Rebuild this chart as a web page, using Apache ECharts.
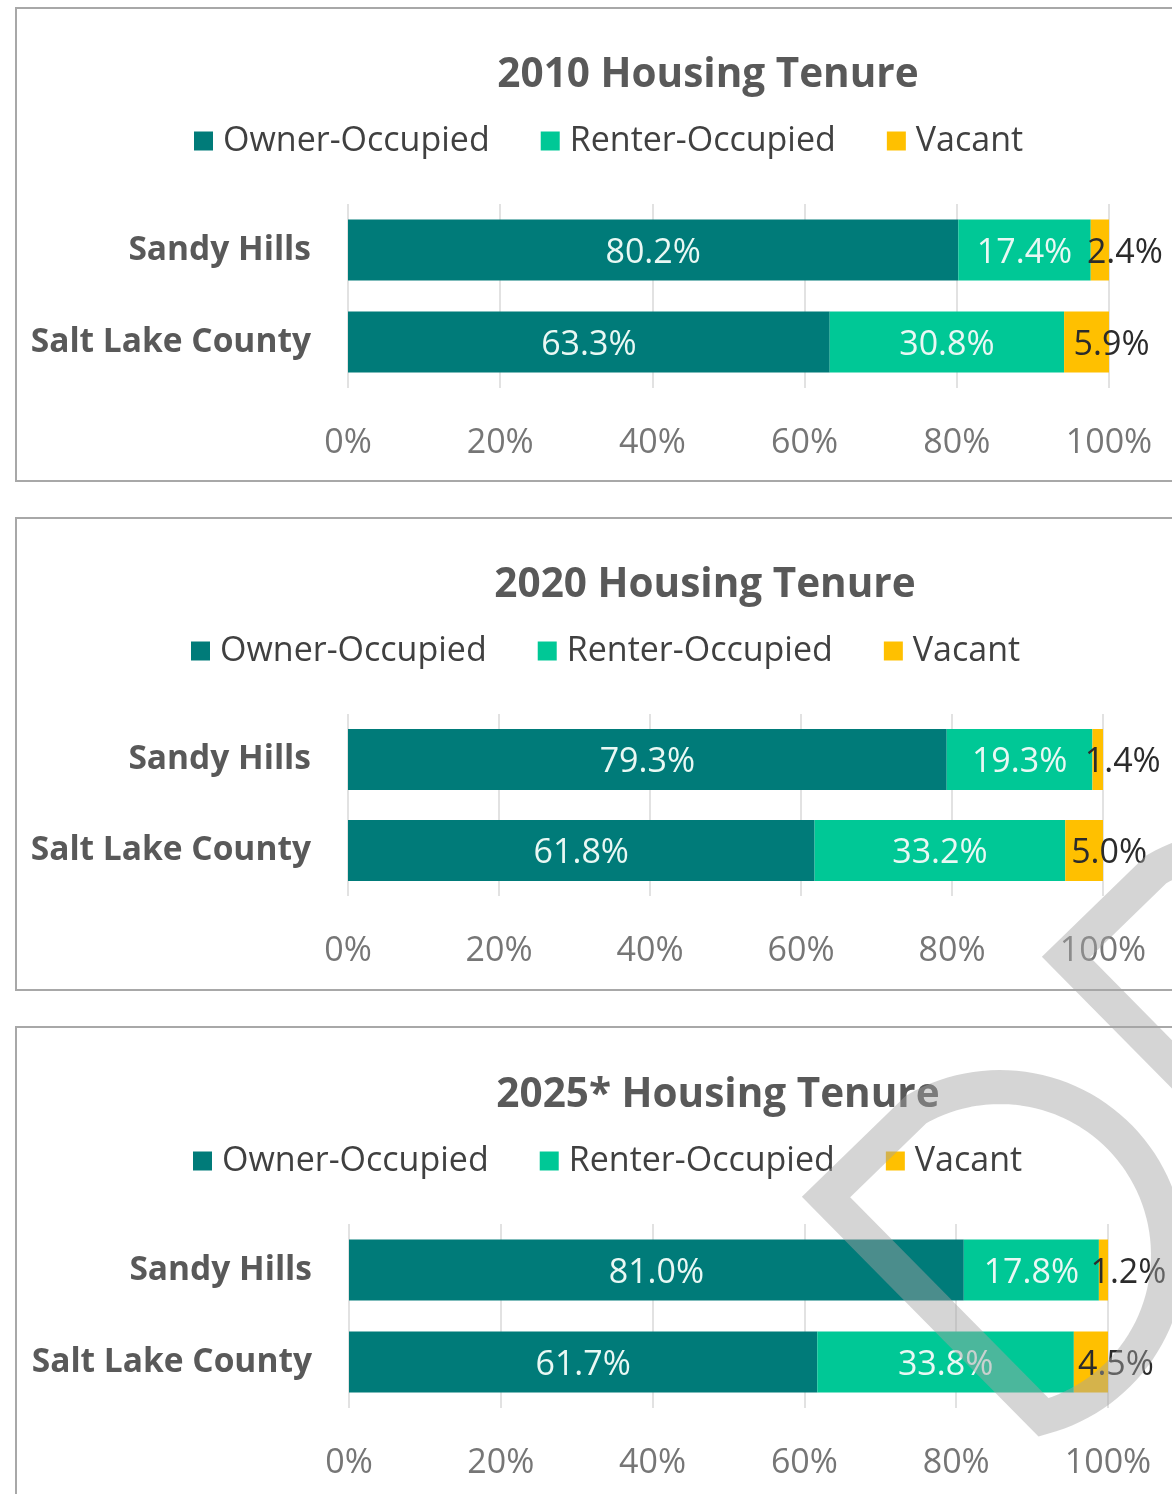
<!DOCTYPE html>
<html>
<head>
<meta charset="utf-8">
<title>Housing Tenure</title>
<script src="https://cdn.jsdelivr.net/npm/echarts@6/dist/echarts.min.js"></script>
<style>
  html, body { margin: 0; padding: 0; background: #ffffff; }
  #chart { width: 1172px; height: 1494px; }
</style>
</head>
<body>
<div id="chart"></div>
<script>
// Housing tenure shares (percent of housing units)
const categories = ['Sandy Hills', 'Salt Lake County'];
const seriesNames = ['Owner-Occupied', 'Renter-Occupied', 'Vacant'];
const chartTitles = ['2010 Housing Tenure', '2020 Housing Tenure', '2025* Housing Tenure'];
const tickLabels = ['0%', '20%', '40%', '60%', '80%', '100%'];

const owner2010 = [80.2, 63.3];
const renter2010 = [17.4, 30.8];
const vacant2010 = [2.4, 5.9];

const owner2020 = [79.3, 61.8];
const renter2020 = [19.3, 33.2];
const vacant2020 = [1.4, 5.0];

const owner2025 = [81.0, 61.7];
const renter2025 = [17.8, 33.8];
const vacant2025 = [1.2, 4.5];

const panelValues = [
  [owner2010, renter2010, vacant2010],
  [owner2020, renter2020, vacant2020],
  [owner2025, renter2025, vacant2025]
];

const colors = ['#007b79', '#00c896', '#ffc000'];

// Frame and plot placement for the three stacked panels
const layout = [
  { boxTop: 8,    boxBottom: 481,  titleX: 708, titleTop: 55,   legendLeft: 194, legendTop: 124,  gridTop: 204,  gridH: 184, gridLeft: 348, gridW: 761 },
  { boxTop: 518,  boxBottom: 990,  titleX: 705, titleTop: 565,  legendLeft: 191, legendTop: 634,  gridTop: 714,  gridH: 182, gridLeft: 348, gridW: 755 },
  { boxTop: 1027, boxBottom: 1560, titleX: 718, titleTop: 1075, legendLeft: 193, legendTop: 1144, gridTop: 1224, gridH: 184, gridLeft: 349, gridW: 759 }
];

const FONT = '"Open Sans", "Noto Sans", sans-serif';
const pct = v => v.toFixed(1) + '%';

const titles = [], legends = [], grids = [], xAxes = [], yAxes = [], series = [], frames = [];

layout.forEach((p, i) => {
  titles.push({
    text: chartTitles[i],
    left: p.titleX,
    top: p.titleTop,
    textAlign: 'center',
    padding: 0,
    textStyle: { fontFamily: FONT, fontSize: 40.5, fontWeight: 'bold', color: '#595959' }
  });
  legends.push({
    data: seriesNames,
    left: p.legendLeft,
    top: p.legendTop,
    padding: 0,
    itemGap: 51,
    itemWidth: 19,
    itemHeight: 19,
    icon: 'rect',
    selectedMode: false,
    textStyle: { fontFamily: FONT, fontSize: 34, color: '#404040', padding: [0, 0, 0, 5] }
  });
  grids.push({ left: p.gridLeft, top: p.gridTop, width: p.gridW, height: p.gridH });
  xAxes.push({
    type: 'value',
    gridIndex: i,
    min: 0,
    max: 100,
    interval: 20,
    axisLine: { show: false },
    axisTick: { show: false },
    splitLine: { show: true, lineStyle: { color: '#d9d9d9', width: 1.5 } },
    axisLabel: {
      margin: 38,
      fontFamily: FONT,
      fontSize: 34,
      color: '#767676',
      formatter: v => tickLabels[Math.round(v / 20)]
    }
  });
  yAxes.push({
    type: 'category',
    gridIndex: i,
    data: categories,
    inverse: true,
    axisLine: { show: false },
    axisTick: { show: false },
    axisLabel: {
      margin: 37,
      fontFamily: FONT,
      fontSize: 33.5,
      fontWeight: 'bold',
      color: '#595959',
      padding: [6, 0, 0, 0]
    }
  });
  panelValues[i].forEach((vals, s) => {
    const isVacant = s === 2;
    series.push({
      name: seriesNames[s],
      type: 'bar',
      stack: 'tenure' + i,
      xAxisIndex: i,
      yAxisIndex: i,
      data: vals,
      barWidth: 61,
      itemStyle: { color: colors[s] },
      label: {
        show: true,
        position: 'inside',
        offset: isVacant ? [25, 3] : [0, 3],
        fontFamily: FONT,
        fontSize: 34,
        color: isVacant ? '#2b2b2b' : '#e9f8f4',
        formatter: prm => pct(prm.value)
      },
      emphasis: { disabled: true },
      animation: false
    });
  });
  frames.push({
    type: 'rect',
    z: 0,
    shape: { x: 16, y: p.boxTop, width: 1200, height: p.boxBottom - p.boxTop },
    style: { fill: 'none', stroke: '#a8a8a8', lineWidth: 2 }
  });
});

// Faint grey logo outline (pointed tip on the left, round body on the right)
function logoOutline(tipX, tipY) {
  const cx = tipX + 174, cy = tipY + 58, r = 168;
  const pts = [[tipX, tipY]];
  // round body: from lower corner (75deg) back round through right and top to 240deg
  const a0 = 75, a1 = -120;
  const steps = 72;
  for (let k = 0; k <= steps; k++) {
    const a = (a0 + (a1 - a0) * k / steps) * Math.PI / 180;
    pts.push([cx + r * Math.cos(a), cy + r * Math.sin(a)]);
  }
  return pts;
}
const markStyle = { fill: 'none', stroke: 'rgba(163,163,163,0.46)', lineWidth: 34, lineJoin: 'miter', miterLimit: 10 };
const marks = [
  { type: 'polygon', z: 100, shape: { points: logoOutline(826, 1197) }, style: markStyle },
  { type: 'polygon', z: 100, shape: { points: logoOutline(1066, 957) }, style: markStyle }
];

const chart = echarts.init(document.getElementById('chart'), null, { renderer: 'canvas' });
chart.setOption({
  backgroundColor: '#ffffff',
  color: colors,
  animation: false,
  title: titles,
  legend: legends,
  grid: grids,
  xAxis: xAxes,
  yAxis: yAxes,
  series: series,
  graphic: { elements: frames.concat(marks) }
});
</script>
</body>
</html>
